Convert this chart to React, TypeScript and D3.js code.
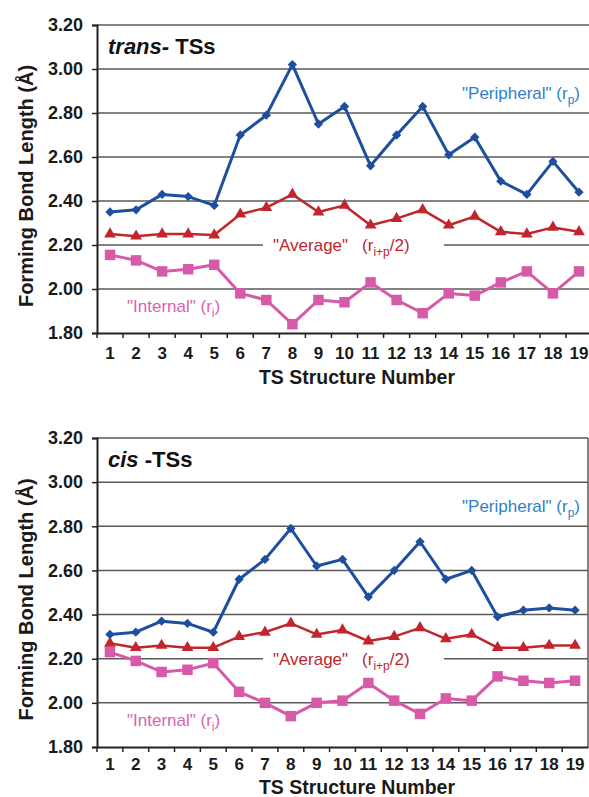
import React, { useEffect, useRef } from "react";
import * as d3 from "d3";

// TS structure numbers (x categories)
const structures = ["1", "2", "3", "4", "5", "6", "7", "8", "9", "10", "11", "12", "13", "14", "15", "16", "17", "18", "19"];
const yTicks = [1.8, 2.0, 2.2, 2.4, 2.6, 2.8, 3.0, 3.2];

// trans- TSs
const transPeripheral = [2.35, 2.36, 2.43, 2.42, 2.38, 2.70, 2.79, 3.02, 2.75, 2.83, 2.56, 2.70, 2.83, 2.61, 2.69, 2.49, 2.43, 2.58, 2.44];
const transAverage = [2.25, 2.24, 2.25, 2.25, 2.245, 2.34, 2.37, 2.43, 2.35, 2.38, 2.29, 2.32, 2.36, 2.29, 2.33, 2.26, 2.25, 2.28, 2.26];
const transInternal = [2.155, 2.13, 2.08, 2.09, 2.11, 1.98, 1.95, 1.84, 1.95, 1.94, 2.03, 1.95, 1.89, 1.98, 1.97, 2.03, 2.08, 1.98, 2.08];

// cis -TSs
const cisPeripheral = [2.31, 2.32, 2.37, 2.36, 2.32, 2.56, 2.65, 2.79, 2.62, 2.65, 2.48, 2.60, 2.73, 2.56, 2.60, 2.39, 2.42, 2.43, 2.42];
const cisAverage = [2.27, 2.25, 2.26, 2.25, 2.25, 2.30, 2.32, 2.36, 2.31, 2.33, 2.28, 2.30, 2.34, 2.29, 2.31, 2.25, 2.25, 2.26, 2.26];
const cisInternal = [2.23, 2.19, 2.14, 2.15, 2.18, 2.05, 2.00, 1.94, 2.00, 2.01, 2.09, 2.01, 1.95, 2.02, 2.01, 2.12, 2.10, 2.09, 2.10];

const FONT = "'Liberation Sans', Arial, Helvetica, sans-serif";
const BLUE = "#1d4f9e";
const BLUE_TXT = "#2f7fcb";
const RED = "#c0262c";
const PINK = "#d75aa8";
const PINK_TXT = "#d963b0";

type PanelProps = {
  left: number;
  top: number;
  right: number;
  bottom: number;
  tickGap: number;
  xTitleGap: number;
  titleItalic: string;
  titleRest: string;
  peripheral: number[];
  average: number[];
  internal: number[];
};

const Panel = ({ left, top, right, bottom, tickGap, xTitleGap, titleItalic, titleRest, peripheral, average, internal }: PanelProps) => {
  const ref = useRef<SVGGElement>(null);

  useEffect(() => {
    const g = d3.select(ref.current);
    g.selectAll("*").remove();

    const x = d3.scaleBand().domain(structures).range([left, right]).padding(0);
    const y = d3.scaleLinear().domain([1.8, 3.2]).range([bottom, top]);
    const cx = (i: number) => (x(structures[i]) as number) + x.bandwidth() / 2;

    // gridlines
    g.selectAll(".grid")
      .data(yTicks.filter((t) => t > 1.8))
      .enter()
      .append("line")
      .attr("x1", left)
      .attr("x2", right)
      .attr("y1", (d) => y(d))
      .attr("y2", (d) => y(d))
      .attr("stroke", "#5a5a5a")
      .attr("stroke-width", 1.5);

    // right border
    g.append("line")
      .attr("x1", right).attr("x2", right)
      .attr("y1", top).attr("y2", bottom)
      .attr("stroke", "#5a5a5a").attr("stroke-width", 1.5);

    // y axis
    const yAxis = g.append("g").attr("transform", `translate(${left},0)`)
      .call(d3.axisLeft(y).tickValues(yTicks).tickSize(5).tickPadding(9).tickFormat(d3.format(".2f")));
    yAxis.select(".domain").attr("stroke", "#222").attr("stroke-width", 2);
    yAxis.selectAll(".tick line").attr("stroke", "#222").attr("stroke-width", 1.5);
    yAxis.selectAll("text")
      .attr("font-family", FONT).attr("font-size", 18).attr("font-weight", "bold").attr("fill", "#1a1a1a");

    // x axis
    const xAxis = g.append("g").attr("transform", `translate(0,${bottom})`)
      .call(d3.axisBottom(x).tickSize(0).tickPadding(tickGap));
    xAxis.select(".domain").attr("stroke", "#222").attr("stroke-width", 2);
    xAxis.selectAll("text")
      .attr("font-family", FONT).attr("font-size", 17).attr("font-weight", "bold").attr("fill", "#1a1a1a");
    g.selectAll(".xtick")
      .data(structures)
      .enter()
      .append("line")
      .attr("x1", (d) => x(d) as number)
      .attr("x2", (d) => x(d) as number)
      .attr("y1", bottom)
      .attr("y2", bottom + 5)
      .attr("stroke", "#222")
      .attr("stroke-width", 1.5);

    // axis titles
    g.append("text")
      .attr("transform", `translate(33,${(top + bottom) / 2 + 7}) rotate(-90)`)
      .attr("text-anchor", "middle")
      .attr("font-family", FONT).attr("font-size", 20).attr("font-weight", "bold").attr("fill", "#1a1a1a")
      .text("Forming Bond Length (Å)");
    g.append("text")
      .attr("x", 357).attr("y", bottom + xTitleGap)
      .attr("text-anchor", "middle")
      .attr("font-family", FONT).attr("font-size", 19.5).attr("font-weight", "bold").attr("fill", "#1a1a1a")
      .text("TS Structure Number");

    // panel title
    const title = g.append("text")
      .attr("x", left + 11).attr("y", top + 29)
      .attr("font-family", FONT).attr("font-size", 22).attr("font-weight", "bold").attr("fill", "#111");
    title.append("tspan").attr("font-style", "italic").text(titleItalic);
    title.append("tspan").text(titleRest);

    // "Average" label with white backing that breaks the 2.20 gridline
    const yAvg = y(2.2);
    g.append("rect")
      .attr("x", 263).attr("y", yAvg - 10).attr("width", 181).attr("height", 22)
      .attr("fill", "#fff");
    const avg = g.append("text")
      .attr("x", 273).attr("y", yAvg + 6)
      .attr("font-family", FONT).attr("font-size", 17).attr("fill", RED);
    avg.append("tspan").text('"Average"');
    avg.append("tspan").attr("dx", 14).text("(r");
    avg.append("tspan").attr("dy", 5).attr("font-size", 12).text("i+p");
    avg.append("tspan").attr("dy", -5).text("/2)");

    const per = g.append("text")
      .attr("x", 580).attr("y", y(2.864))
      .attr("text-anchor", "end")
      .attr("font-family", FONT).attr("font-size", 17).attr("fill", BLUE_TXT);
    per.append("tspan").text('"Peripheral" (r');
    per.append("tspan").attr("dy", 5).attr("font-size", 12).text("p");
    per.append("tspan").attr("dy", -5).text(")");

    const intl = g.append("text")
      .attr("x", 127).attr("y", y(1.895))
      .attr("font-family", FONT).attr("font-size", 17).attr("fill", PINK_TXT);
    intl.append("tspan").text('"Internal" (r');
    intl.append("tspan").attr("dy", 5).attr("font-size", 12).text("i");
    intl.append("tspan").attr("dy", -5).text(")");

    // series
    const series = [
      { values: internal, color: PINK, symbol: d3.symbolSquare, size: 110, width: 3 },
      { values: average, color: RED, symbol: d3.symbolTriangle, size: 60, width: 2.5 },
      { values: peripheral, color: BLUE, symbol: d3.symbolDiamond2, size: 55, width: 3 },
    ];
    series.forEach((s) => {
      const line = d3.line<number>().x((_, i) => cx(i)).y((d) => y(d));
      g.append("path")
        .attr("d", line(s.values))
        .attr("fill", "none")
        .attr("stroke", s.color)
        .attr("stroke-width", s.width)
        .attr("stroke-linejoin", "round");
      g.selectAll(null)
        .data(s.values)
        .enter()
        .append("path")
        .attr("d", d3.symbol().type(s.symbol).size(s.size)())
        .attr("transform", (d, i) => `translate(${cx(i)},${y(d)})`)
        .attr("fill", s.color);
    });
  }, []);

  return <g ref={ref} />;
};

export default function App() {
  return (
    <svg
      width={589}
      height={797}
      style={{ position: "absolute", left: 0, top: 0, background: "#fff" }}
    >
      <rect width={589} height={797} fill="#fff" />
      <Panel
        left={97}
        top={25}
        right={592}
        bottom={333}
        tickGap={14}
        xTitleGap={51}
        titleItalic="trans-"
        titleRest=" TSs"
        peripheral={transPeripheral}
        average={transAverage}
        internal={transInternal}
      />
      <Panel
        left={97}
        top={438}
        right={588}
        bottom={747}
        tickGap={11}
        xTitleGap={47}
        titleItalic="cis"
        titleRest=" -TSs"
        peripheral={cisPeripheral}
        average={cisAverage}
        internal={cisInternal}
      />
    </svg>
  );
}
